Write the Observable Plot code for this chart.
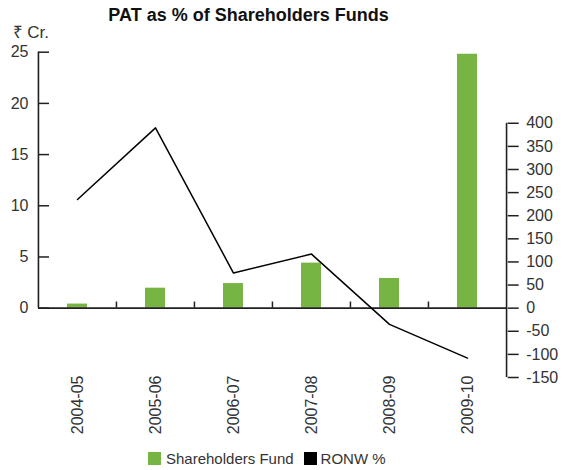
<!DOCTYPE html>
<html>
<head>
<meta charset="utf-8">
<script src="https://cdn.jsdelivr.net/npm/d3@7"></script>
<script src="https://cdn.jsdelivr.net/npm/@observablehq/plot@0.6"></script>
<style>
  body { margin: 0; background: #fff; font-family: "Liberation Sans", Arial, sans-serif; }
  #title { width: 497px; height: 20px; line-height: 20px; text-align: center; font-weight: bold; font-size: 18px; color: #111; transform: translateY(5px); }
  #legend { height: 20px; display: flex; align-items: center; padding-left: 148px; font-size: 15px; color: #333; }
  .sw { width: 13px; height: 13px; display: inline-block; }
</style>
</head>
<body>
<div id="title">PAT as % of Shareholders Funds</div>
<div id="chart"></div>
<div id="legend">
  <span class="sw" style="background:#76b443"></span><span style="margin-left:5px">Shareholders Fund</span>
  <span class="sw" style="background:#000;margin-left:10px"></span><span style="margin-left:4px">RONW %</span>
</div>
<script>
const years = ["2004-05", "2005-06", "2006-07", "2007-08", "2008-09", "2009-10"];
const shareholdersFund = [0.4, 1.95, 2.4, 4.4, 2.9, 24.8];
const ronw = [235, 390, 76, 117, -35, -108];
const leftTicks = [0, 5, 10, 15, 20, 25];
const rightTicks = [-150, -100, -50, 0, 50, 100, 150, 200, 250, 300, 350, 400];

const k = 22.15; // right-axis units per left-axis unit
const data = years.map((y, i) => ({year: y, fund: shareholdersFund[i], ronw: ronw[i]}));

const width = 566, height = 428, mL = 38, mR = 59.3;
const bw = (width - mL - mR) / years.length;
const ink = "#231f20";

const chart = Plot.plot({
  width, height,
  marginLeft: mL, marginRight: mR, marginTop: 31.7, marginBottom: 71,
  style: {fontFamily: "Liberation Sans, Arial, sans-serif", fontSize: "16px", color: "#333", background: "#fff"},
  x: {type: "band", domain: years, padding: 0},
  y: {domain: [-150 / k, 25]},
  marks: [
    Plot.barY(data, {x: "year", y: "fund", fill: "#76b443", insetLeft: 29, insetRight: 29}),
    Plot.ruleY([0], {stroke: ink, strokeWidth: 1.6}),
    Plot.ruleX(years.slice(1), {x: d => d, dx: -bw / 2, y1: 0, y2: 0.6, stroke: ink, strokeWidth: 1.5}),
    Plot.ruleX([years[0]], {x: d => d, dx: -bw / 2, y1: 0, y2: 25, stroke: ink, strokeWidth: 1.6}),
    Plot.ruleX([years[years.length - 1]], {x: d => d, dx: bw / 2, y1: -150 / k, y2: 400 / k, stroke: ink, strokeWidth: 1.6}),
    Plot.lineY(data, {x: "year", y: d => d.ronw / k, stroke: "#000", strokeWidth: 1.5}),
    Plot.axisY(leftTicks, {anchor: "left", tickSize: -11, tickPadding: 21, stroke: ink, strokeWidth: 1.5, label: null}),
    Plot.axisY(rightTicks.map(v => v / k), {anchor: "right", tickSize: 11, tickPadding: 8, stroke: ink, strokeWidth: 1.5,
      tickFormat: d => `${Math.round(d * k)}`, label: null}),
    Plot.axisX({anchor: "bottom", tickRotate: -90, tickSize: 0, tickPadding: -2, label: null}),
    Plot.text(["₹ Cr."], {frameAnchor: "top-left", dx: -26, dy: -14, lineAnchor: "bottom", textAnchor: "start", fontSize: 17, fill: "#333"})
  ]
});
document.getElementById("chart").appendChild(chart);
</script>
</body>
</html>
